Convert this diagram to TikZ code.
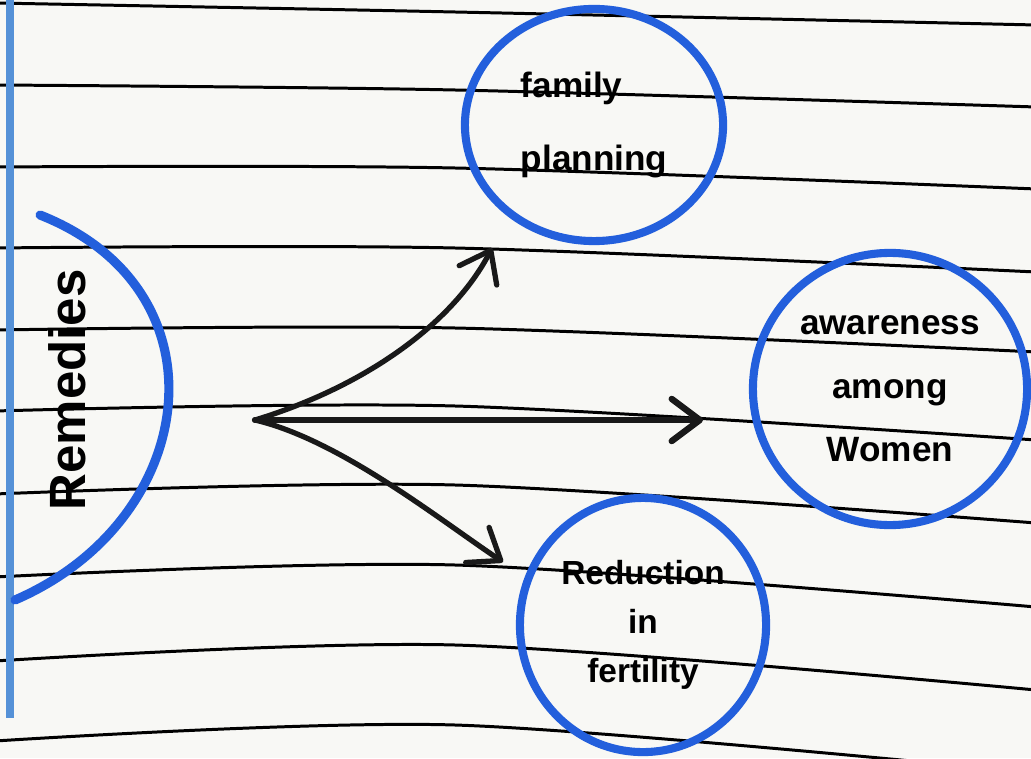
\documentclass[tikz,border=0pt]{standalone}
\usepackage{fontspec}
\setmainfont{Liberation Sans}
\usetikzlibrary{arrows.meta,shapes.geometric,positioning}

\definecolor{blueink}{RGB}{35,95,220}
\definecolor{marginblue}{RGB}{85,145,215}
\definecolor{paper}{RGB}{248,248,245}

\begin{document}
\begin{tikzpicture}[x=0.01cm,y=-0.01cm,
    ruled/.style={line width=0.85pt,black},
    ink/.style={line width=1.5pt,black!90,line cap=round},
    tip/.style={-{Straight Barb[length=8pt,width=12pt,round]}},
    bubble/.style={ellipse,draw=blueink,line width=2.3pt,inner sep=0pt}]
        \fill[paper] (0,0) rectangle (1031,758);
        \useasboundingbox (0,0) rectangle (1031,758);
        \foreach \l/\m/\r in {3/12/25,85/90/107,167/168/189,248/248/272,330/328/352,411/406/440,494/485/523,577/565/607,661/645/690,741/725/773}
            \draw[ruled] plot[smooth] coordinates {(-5,\l) (455,\m) (1036,\r)};
        \draw[marginblue,line width=2pt] (10,-5) -- (10,718);
        \draw[blueink,line width=2.6pt,line cap=round] (40,215) .. controls (230,290) and (200,520) .. (15,600);
        \node[rotate=90,font=\bfseries\fontsize{14.5}{16}\selectfont] (remedies) at (67,390) {Remedies};
        \node[bubble,align=left,minimum width=2.58cm,minimum height=2.32cm,font=\bfseries\fontsize{10}{21}\selectfont] (famplan) at (594,125) {family\\planning};
        \node[bubble,align=center,minimum width=2.74cm,minimum height=2.72cm,font=\bfseries\fontsize{10}{18}\selectfont] (aware) at (890,389) {awareness\\among\\Women};
        \node[bubble,align=center,minimum width=2.46cm,minimum height=2.54cm,font=\bfseries\fontsize{9.5}{14}\selectfont] (fert) at (643,625) {Reduction\\in\\fertility};
        \coordinate (hub) at (255,420);
        \coordinate (tipA) at (492,248);
        \coordinate (tipB) at (703,420);
        \coordinate (tipC) at (503,562);
        \draw[ink,tip] (hub) .. controls (370,385) and (455,320) .. (tipA);
        \draw[ink,tip,line width=1.8pt] (hub) -- (tipB);
        \draw[ink,tip] (hub) .. controls (340,440) and (440,520) .. (tipC);
    \end{tikzpicture}
\end{document}
